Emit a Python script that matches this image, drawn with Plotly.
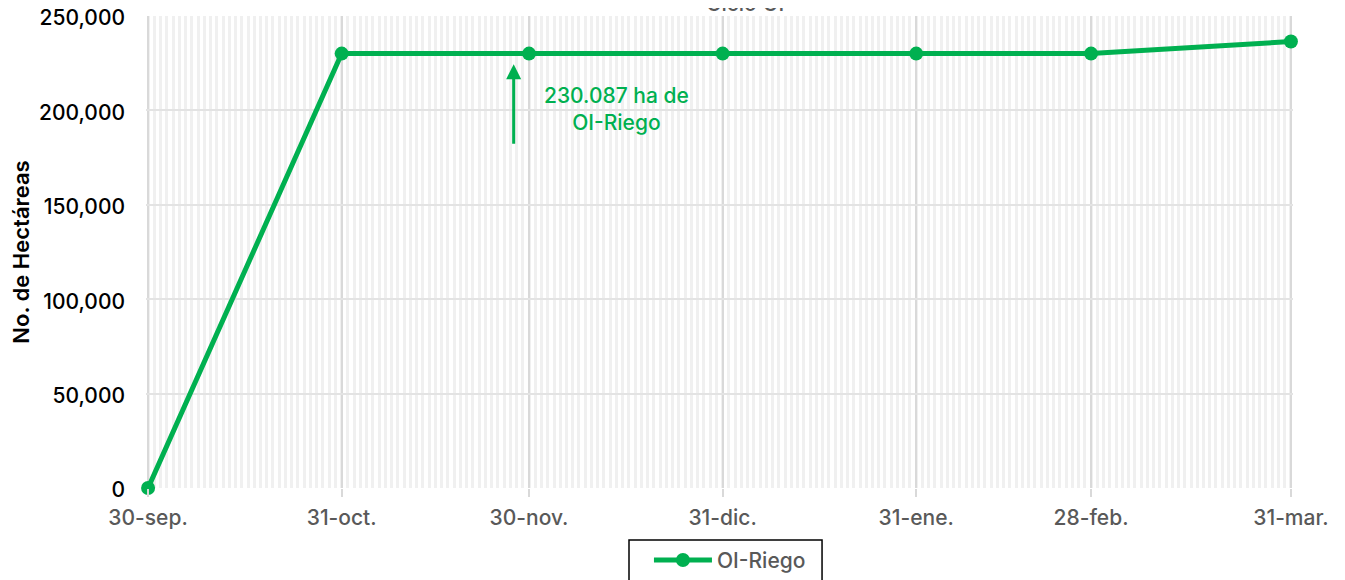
import plotly.graph_objects as go

dates = ["2023-09-30", "2023-10-31", "2023-11-30", "2023-12-31", "2024-01-31", "2024-02-28", "2024-03-31"]
tick_labels = ["30-sep.", "31-oct.", "30-nov.", "31-dic.", "31-ene.", "28-feb.", "31-mar."]
oi_riego = [0, 230087, 230087, 230087, 230087, 230087, 236500]
series_name = "OI-Riego"
title_text = "Ciclo OI"
y_title = "No. de Hectáreas"
note_text = "230.087 ha de<br>OI-Riego"

GREEN = "#00B050"
FONT = "Inter, 'Open Sans', sans-serif"

fig = go.Figure()
fig.add_trace(go.Scatter(
    x=dates, y=oi_riego, name=series_name, mode="lines+markers",
    line=dict(color=GREEN, width=5),
    marker=dict(color=GREEN, size=14),
    cliponaxis=False,
))

fig.update_layout(
    width=1345, height=580,
    margin=dict(l=138, r=60, t=8, b=100, autoexpand=False),
    paper_bgcolor="white", plot_bgcolor="white",
    font=dict(family=FONT, size=21, color="#595959", weight=500),
    showlegend=True,
    legend=dict(
        orientation="h", x=0.4385, xanchor="left", y=-0.11, yanchor="top",
        borderwidth=0, bgcolor="rgba(0,0,0,0)",
        font=dict(size=21, color="#595959", weight=500), itemwidth=58,
    ),
    xaxis=dict(
        type="date", automargin=False,
        range=["2023-09-29 16:00", "2024-03-31 08:00"],
        tickvals=dates, ticktext=tick_labels,
        showgrid=True, gridcolor="#D9D9D9", gridwidth=2,
        ticks="outside", ticklen=8, tickcolor="#D9D9D9", tickwidth=2,
        ticklabelstandoff=3,
        tickfont=dict(size=21, color="#595959", weight=500),
        showline=False, zeroline=False,
        minor=dict(dtick=86400000, tick0="2023-09-30", showgrid=True,
                   gridcolor="#F0F0F0", gridwidth=3, ticks=""),
    ),
    yaxis=dict(
        range=[0, 250000], dtick=50000, tickformat=",", automargin=False,
        showgrid=True, gridcolor="#E3E3E3", gridwidth=2,
        zeroline=False, showline=False, ticklabeloverflow="allow",
        tickfont=dict(size=21, color="black", weight=500),
        ticks="", ticklabelstandoff=20, ticklabelshift=2,
        title=dict(text=y_title, font=dict(size=22, color="black", weight=600), standoff=20),
    ),
)

# legend frame
fig.add_shape(
    type="rect", xref="paper", yref="paper",
    x0=0.4211, x1=0.5894, y0=-0.1102, y1=-0.23,
    line=dict(color="black", width=1.5), fillcolor="white", layer="below",
)

fig.add_annotation(
    x="2023-11-27 13:00", y=224500, xref="x", yref="y",
    ax=0, ay=81, axref="pixel", ayref="pixel",
    text="", showarrow=True, arrowhead=2, arrowsize=1, arrowwidth=3,
    arrowcolor=GREEN,
)
fig.add_annotation(
    x="2023-12-14", y=201000, xref="x", yref="y",
    text=note_text, showarrow=False,
    font=dict(size=21, color=GREEN, weight=500), align="center",
)
fig.add_annotation(
    x=0.522, y=0.9958, xref="paper", yref="paper", yanchor="bottom",
    text=title_text, showarrow=False,
    font=dict(size=21, color="#595959", weight=500),
)

fig.write_html("out.html")
